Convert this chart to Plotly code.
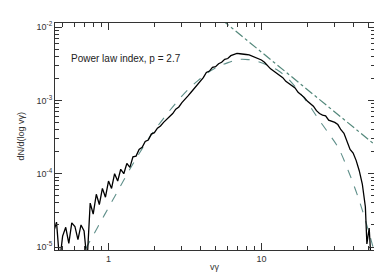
import plotly.graph_objects as go

# ---- data ----
gamma = [0.437, 0.457, 0.479, 0.501, 0.525, 0.550, 0.575, 0.603, 0.631, 0.661,
         0.692, 0.724, 0.759, 0.794, 0.832, 0.871, 0.912, 0.955, 1.000, 1.047,
         1.096, 1.148, 1.202, 1.259, 1.318, 1.380, 1.445, 1.514, 1.585, 1.660,
         1.738, 1.820, 1.905, 1.995, 2.089, 2.188, 2.291, 2.399, 2.512, 2.630,
         2.754, 2.884, 3.020, 3.162, 3.311, 3.467, 3.631, 3.802, 3.981, 4.169,
         4.365, 4.571, 4.786, 5.012, 5.248, 5.495, 5.754, 6.026, 6.310, 6.607,
         6.918, 7.244, 7.586, 7.943, 8.318, 8.710, 9.120, 9.550, 10.00, 10.47,
         10.96, 11.48, 12.02, 12.59, 13.18, 13.80, 14.45, 15.14, 15.85, 16.60,
         17.38, 18.20, 19.05, 19.95, 20.89, 21.88, 22.91, 23.99, 25.12, 26.30,
         27.54, 28.84, 30.20, 31.62, 33.11, 34.67, 36.31, 38.02, 39.81, 41.69,
         43.65, 45.71, 47.86, 48.98, 50.70, 52.48]
dn = [1.58e-5, 2.19e-5, 6.3e-6, 1.41e-5, 1.86e-5, 1.12e-5, 2.14e-5, 1.91e-5, 1.26e-5, 2.00e-5,
      1.66e-5, 6.3e-6, 3.98e-5, 2.82e-5, 5.25e-5, 3.80e-5, 6.31e-5, 4.79e-5, 7.94e-5, 6.31e-5,
      1.00e-4, 7.94e-5, 1.15e-4, 1.00e-4, 1.38e-4, 1.22e-4, 1.70e-4, 1.74e-4, 2.14e-4, 2.29e-4,
      2.75e-4, 2.88e-4, 3.47e-4, 3.63e-4, 4.17e-4, 4.47e-4, 5.01e-4, 5.50e-4, 6.17e-4, 6.61e-4,
      7.59e-4, 8.13e-4, 9.33e-4, 1.02e-3, 1.15e-3, 1.29e-3, 1.45e-3, 1.62e-3, 1.82e-3, 2.04e-3,
      2.40e-3, 2.51e-3, 2.82e-3, 2.88e-3, 3.16e-3, 3.31e-3, 3.63e-3, 3.72e-3, 4.07e-3, 4.17e-3,
      4.37e-3, 4.32e-3, 4.32e-3, 4.22e-3, 4.17e-3, 4.02e-3, 3.89e-3, 3.76e-3, 3.55e-3, 3.31e-3,
      2.95e-3, 2.69e-3, 2.51e-3, 2.34e-3, 2.14e-3, 2.04e-3, 1.82e-3, 1.70e-3, 1.55e-3, 1.48e-3,
      1.29e-3, 1.20e-3, 1.10e-3, 9.77e-4, 8.91e-4, 8.32e-4, 7.24e-4, 6.61e-4, 6.31e-4, 6.17e-4,
      5.37e-4, 5.25e-4, 5.01e-4, 4.68e-4, 3.98e-4, 3.55e-4, 2.75e-4, 2.14e-4, 1.91e-4, 1.51e-4,
      1.10e-4, 7.24e-5, 3.55e-5, 1.10e-5, 1.82e-5, 5.0e-6]

fit_gamma = [0.708, 0.851, 0.989, 1.151, 1.337, 1.556, 1.807, 2.104, 2.449, 2.844,
             3.311, 3.846, 4.477, 5.200, 6.053, 7.031, 8.185, 9.506, 11.07, 12.85,
             14.96, 17.39, 20.23, 23.53, 27.35, 31.84, 36.98, 43.05, 50.00, 54.8]
fit_dn = [9.4e-6, 1.88e-5, 3.31e-5, 5.83e-5, 1.03e-4, 1.76e-4, 2.90e-4, 4.51e-4, 6.79e-4, 9.91e-4,
          1.40e-3, 1.86e-3, 2.39e-3, 2.88e-3, 3.27e-3, 3.60e-3, 3.60e-3, 3.38e-3, 2.98e-3, 2.55e-3,
          1.98e-3, 1.36e-3, 9.02e-4, 5.62e-4, 3.62e-4, 2.26e-4, 1.10e-4, 4.69e-5, 1.71e-5, 8.6e-6]

pl_gamma = [5.5, 55.3]
pl_dn = [1.26e-2, 2.48e-4]

y_tickvals = [1e-5, 1e-4, 1e-3, 1e-2]
y_ticktext = ["10<sup>-5</sup>", "10<sup>-4</sup>", "10<sup>-3</sup>", "10<sup>-2</sup>"]
y_minor = [m * d for d in (1e-5, 1e-4, 1e-3) for m in range(2, 10)]
x_tickvals = [1, 10]
x_ticktext = ["1", "10"]
x_minor = [0.5, 0.6, 0.7, 0.8, 0.9, 2, 3, 4, 5, 6, 7, 8, 9, 20, 30, 40, 50]

FONT = "Liberation Sans, Arial, sans-serif"
AX = "#333333"
FITC = "#5f8f8a"
PLC = "#52877a"

fig = go.Figure()
fig.add_trace(go.Scatter(x=pl_gamma, y=pl_dn, mode="lines",
                         line=dict(color=PLC, width=1.2, dash="dashdot"), hoverinfo="skip"))
fig.add_trace(go.Scatter(x=fit_gamma, y=fit_dn, mode="lines", line_shape="spline",
                         line=dict(color=FITC, width=1.1, dash="dash"), hoverinfo="skip"))
fig.add_trace(go.Scatter(x=gamma, y=dn, mode="lines",
                         line=dict(color="black", width=1.3), hoverinfo="skip"))

fig.add_annotation(text="Power law index, p = 2.7", x=0.045, y=0.845, xref="paper", yref="paper",
                   xanchor="left", yanchor="middle", showarrow=False,
                   font=dict(family=FONT, size=10, color="#222222"))
# axis titles
fig.add_annotation(text="vγ", x=0.5, y=-0.075, xref="paper", yref="paper",
                   xanchor="center", yanchor="middle", showarrow=False,
                   font=dict(family=FONT, size=9, color="#333333"))
fig.add_annotation(text="dN/d(log vγ)", x=-0.109, y=0.5, xref="paper", yref="paper",
                   xanchor="center", yanchor="middle", showarrow=False, textangle=-90,
                   font=dict(family=FONT, size=9, color="#333333"))

axis_common = dict(showline=True, linecolor=AX, linewidth=1, mirror="allticks",
                   ticks="inside", tickcolor=AX, showgrid=False, zeroline=False,
                   automargin=False,
                   tickfont=dict(family=FONT, size=9, color="#333333"))

fig.update_xaxes(type="log", range=[-0.35, 1.743], tickmode="array",
                 tickvals=x_tickvals, ticktext=x_ticktext, ticklen=7, tickwidth=1,
                 minor=dict(ticks="inside", ticklen=4, tickcolor=AX, showgrid=False,
                            tickmode="array", tickvals=x_minor),
                 **axis_common)
fig.update_yaxes(type="log", range=[-5.04, -1.945], tickmode="array",
                 tickvals=y_tickvals, ticktext=y_ticktext, ticklen=7, tickwidth=1,
                 minor=dict(ticks="inside", ticklen=4, tickcolor=AX, showgrid=False,
                            tickmode="array", tickvals=y_minor),
                 **axis_common)

fig.update_layout(width=382, height=273, margin=dict(l=47, r=15, t=15, b=31),
                  plot_bgcolor="white", paper_bgcolor="white", showlegend=False,
                  font=dict(family=FONT, size=9, color="#333333"))

fig.write_html("out.html")
